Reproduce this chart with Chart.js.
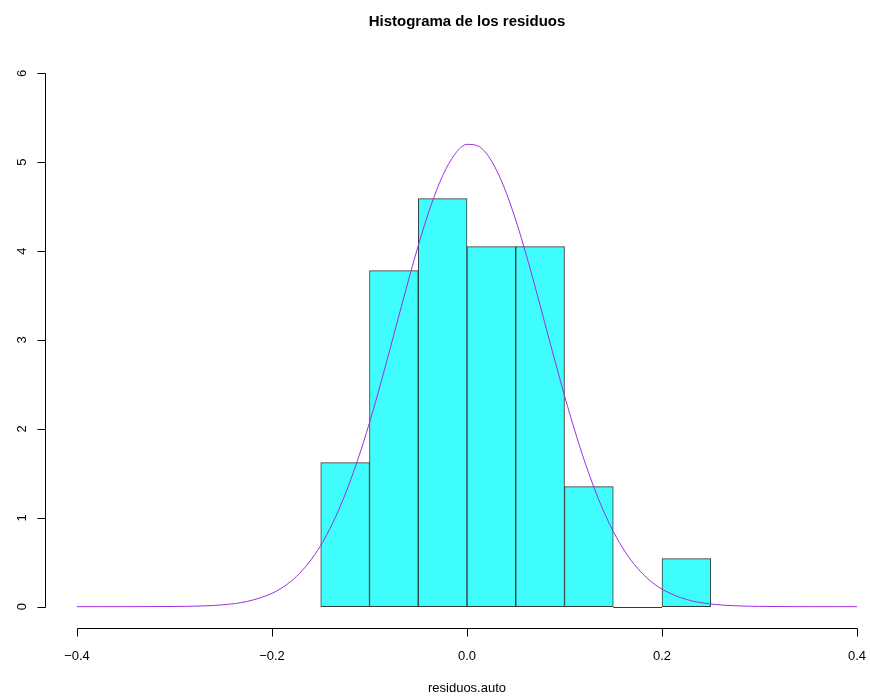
<!DOCTYPE html>
<html lang="es">
<head>
    <meta charset="UTF-8">
    <title>Histograma de los residuos</title>
    <script src="https://cdn.jsdelivr.net/npm/chart.js"></script>
    <style>
        body {
            margin: 0;
            background-color: #ffffff;
        }

        .chart-box {
            width: 870px;
            height: 696px;
        }
    </style>
</head>
<body>
    <div class="chart-box">
        <canvas id="histChart" width="870" height="696"></canvas>
    </div>

    <script>
        // Histogram bins (lower edge of each bin, width 0.05) and their densities
        const binStarts = [-0.15, -0.10, -0.05, 0.00, 0.05, 0.10, 0.15, 0.20];
        const binWidth = 0.05;
        const densities = [1.62, 3.78, 4.59, 4.05, 4.05, 1.35, 0, 0.54];

        // Normal curve drawn over the histogram
        const curveX = [-0.4, -0.375, -0.35, -0.325, -0.3, -0.275, -0.25, -0.225, -0.2,
            -0.1875, -0.175, -0.1625, -0.15, -0.1375, -0.125, -0.1125, -0.1, -0.0875, -0.075,
            -0.0625, -0.05, -0.0375, -0.025, -0.0125, 0, 0.0125, 0.025, 0.0375, 0.05, 0.0625,
            0.075, 0.0875, 0.1, 0.1125, 0.125, 0.1375, 0.15, 0.1625, 0.175, 0.1875,
            0.2, 0.225, 0.25, 0.275, 0.3, 0.325, 0.35, 0.375, 0.4];
        const curveY = [0.000, 0.000, 0.000, 0.001, 0.002, 0.007, 0.021, 0.060, 0.150,
            0.229, 0.339, 0.491, 0.690, 0.946, 1.261, 1.638, 2.071, 2.552, 3.060,
            3.573, 4.062, 4.497, 4.848, 5.089, 5.201, 5.176, 5.016, 4.733, 4.349, 3.891,
            3.389, 2.875, 2.374, 1.910, 1.496, 1.141, 0.847, 0.612, 0.431, 0.295,
            0.197, 0.081, 0.030, 0.010, 0.003, 0.001, 0.000, 0.000, 0.000];

        // Axis ticks and labels
        const xTicks = [-0.4, -0.2, 0, 0.2, 0.4];
        const xTickLabels = ['\u22120.4', '\u22120.2', '0.0', '0.2', '0.4'];
        const yTicks = [0, 1, 2, 3, 4, 5, 6];
        const yTickLabels = ['0', '1', '2', '3', '4', '5', '6'];

        const chartTitle = 'Histograma de los residuos';
        const xTitle = 'residuos.auto';

        const barFill = '#40fdfd';
        const barEdge = '#333b3b';
        const curveColor = '#9b30e0';
        const fontFamily = "'Liberation Sans', Arial, Helvetica, sans-serif";

        // R-style axes: line only between first and last tick, ticks pointing outwards
        const rAxes = {
            id: 'rAxes',
            afterDraw(chart) {
                const { ctx, chartArea, scales: { x, y } } = chart;
                const crisp = v => Math.round(v) + 0.5;
                ctx.save();

                // an empty bin is still drawn by R as a flat rectangle on the baseline
                ctx.strokeStyle = barEdge;
                ctx.lineWidth = 1;
                densities.forEach((d, i) => {
                    if (d === 0) {
                        const base = crisp(y.getPixelForValue(0));
                        ctx.beginPath();
                        ctx.moveTo(x.getPixelForValue(binStarts[i]), base);
                        ctx.lineTo(x.getPixelForValue(binStarts[i] + binWidth), base);
                        ctx.stroke();
                    }
                });

                ctx.strokeStyle = '#000000';
                ctx.fillStyle = '#000000';

                // x axis
                const ax = crisp(chartArea.bottom);
                ctx.beginPath();
                ctx.moveTo(crisp(x.getPixelForValue(xTicks[0])), ax);
                ctx.lineTo(crisp(x.getPixelForValue(xTicks[xTicks.length - 1])), ax);
                xTicks.forEach(t => {
                    const px = crisp(x.getPixelForValue(t));
                    ctx.moveTo(px, ax);
                    ctx.lineTo(px, ax + 8);
                });
                ctx.stroke();

                ctx.font = '13px ' + fontFamily;
                ctx.textAlign = 'center';
                ctx.textBaseline = 'alphabetic';
                xTicks.forEach((t, i) => {
                    ctx.fillText(xTickLabels[i], x.getPixelForValue(t), 660);
                });

                // y axis
                const ay = crisp(chartArea.left);
                ctx.beginPath();
                ctx.moveTo(ay, crisp(y.getPixelForValue(yTicks[0])));
                ctx.lineTo(ay, crisp(y.getPixelForValue(yTicks[yTicks.length - 1])));
                yTicks.forEach(t => {
                    const py = crisp(y.getPixelForValue(t));
                    ctx.moveTo(ay, py);
                    ctx.lineTo(ay - 8, py);
                });
                ctx.stroke();

                yTicks.forEach((t, i) => {
                    ctx.save();
                    ctx.translate(26, y.getPixelForValue(t));
                    ctx.rotate(-Math.PI / 2);
                    ctx.fillText(yTickLabels[i], 0, 0);
                    ctx.restore();
                });

                // titles, centred on the plot region like R does
                const mid = x.getPixelForValue(0);
                ctx.fillText(xTitle, mid, 692);
                ctx.font = 'bold 15px ' + fontFamily;
                ctx.fillText(chartTitle, mid, 26);

                ctx.restore();
            }
        };

        new Chart(document.getElementById('histChart'), {
            type: 'bar',
            data: {
                datasets: [
                    {
                        type: 'line',
                        label: 'Normal',
                        data: curveX.map((v, i) => ({ x: v, y: curveY[i] })),
                        borderColor: curveColor,
                        borderWidth: 1,
                        pointRadius: 0,
                        cubicInterpolationMode: 'monotone',
                        fill: false,
                        order: 0
                    },
                    {
                        type: 'bar',
                        label: xTitle,
                        data: binStarts.map((s, i) => ({ x: s + binWidth / 2, y: densities[i] })),
                        backgroundColor: barFill,
                        borderColor: barEdge,
                        borderWidth: 1,
                        borderSkipped: false,
                        barPercentage: 1,
                        categoryPercentage: 1,
                        order: 1
                    }
                ]
            },
            options: {
                responsive: false,
                animation: false,
                devicePixelRatio: 1,
                layout: {
                    padding: { left: 45, right: 0, top: 52, bottom: 68 }
                },
                scales: {
                    x: { type: 'linear', display: false, offset: false, min: -0.4328, max: 0.4133 },
                    y: { type: 'linear', display: false, min: -0.24, max: 6.24 }
                },
                plugins: {
                    legend: { display: false },
                    tooltip: { enabled: false },
                    title: { display: false }
                }
            },
            plugins: [rAxes]
        });
    </script>
</body>
</html>
